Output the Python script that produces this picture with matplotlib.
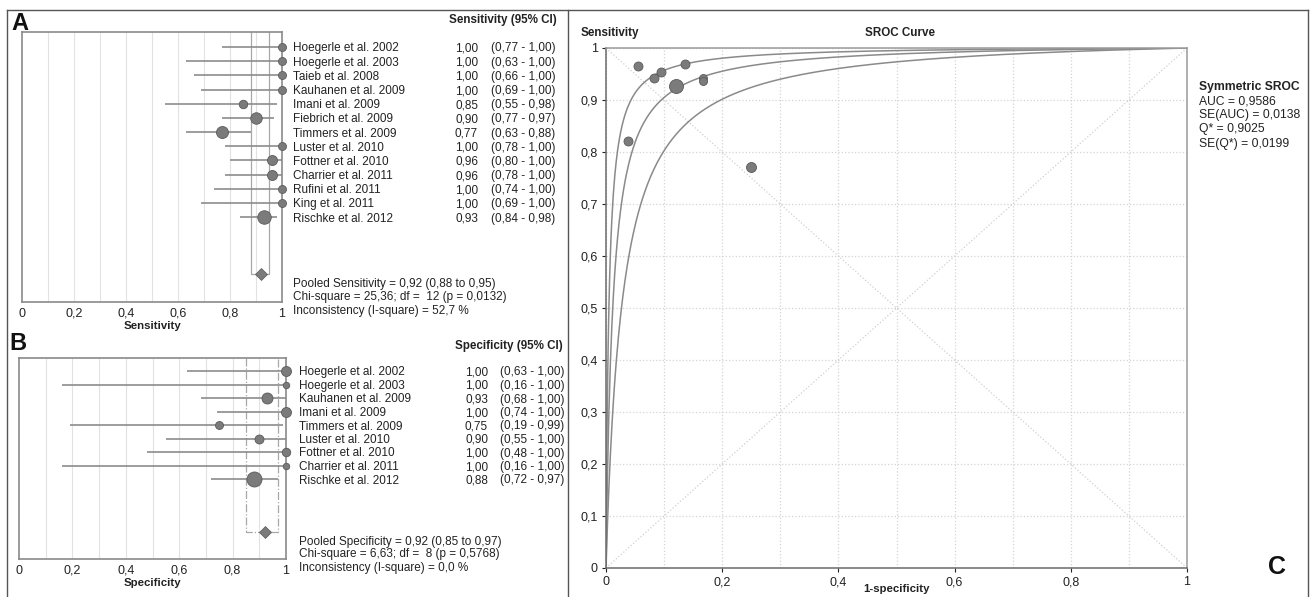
import numpy as np
import matplotlib
matplotlib.use('Agg')
import matplotlib.pyplot as plt
from matplotlib.lines import Line2D
from matplotlib.ticker import FuncFormatter, MultipleLocator

plt.rcParams['font.family'] = ['Liberation Sans', 'DejaVu Sans']

# ---- data: sensitivity forest plot (A)
sens_studies = ['Hoegerle et al. 2002', 'Hoegerle et al. 2003', 'Taieb et al. 2008',
                'Kauhanen et al. 2009', 'Imani et al. 2009', 'Fiebrich et al. 2009',
                'Timmers et al. 2009', 'Luster et al. 2010', 'Fottner et al. 2010',
                'Charrier et al. 2011', 'Rufini et al. 2011', 'King et al. 2011',
                'Rischke et al. 2012']
sens_est = [1.00, 1.00, 1.00, 1.00, 0.85, 0.90, 0.77, 1.00, 0.96, 0.96, 1.00, 1.00, 0.93]
sens_lo = [0.77, 0.63, 0.66, 0.69, 0.55, 0.77, 0.63, 0.78, 0.80, 0.78, 0.74, 0.69, 0.84]
sens_hi = [1.00, 1.00, 1.00, 1.00, 0.98, 0.97, 0.88, 1.00, 1.00, 1.00, 1.00, 1.00, 0.98]
sens_weight = [8, 8, 8, 8, 8.5, 11.5, 12, 8, 10, 10, 8, 8, 13.5]
sens_pooled = (0.92, 0.88, 0.95)
sens_stats = ['Pooled Sensitivity = 0,92 (0,88 to 0,95)',
              'Chi-square = 25,36; df =  12 (p = 0,0132)',
              'Inconsistency (I-square) = 52,7 %']

# ---- data: specificity forest plot (B)
spec_studies = ['Hoegerle et al. 2002', 'Hoegerle et al. 2003', 'Kauhanen et al. 2009',
                'Imani et al. 2009', 'Timmers et al. 2009', 'Luster et al. 2010',
                'Fottner et al. 2010', 'Charrier et al. 2011', 'Rischke et al. 2012']
spec_est = [1.00, 1.00, 0.93, 1.00, 0.75, 0.90, 1.00, 1.00, 0.88]
spec_lo = [0.63, 0.16, 0.68, 0.74, 0.19, 0.55, 0.48, 0.16, 0.72]
spec_hi = [1.00, 1.00, 1.00, 1.00, 0.99, 1.00, 1.00, 1.00, 0.97]
spec_weight = [10, 6.5, 11, 10, 8, 9, 8.5, 6.5, 15]
spec_pooled = (0.92, 0.85, 0.97)
spec_stats = ['Pooled Specificity = 0,92 (0,85 to 0,97)',
              'Chi-square = 6,63; df =  8 (p = 0,5768)',
              'Inconsistency (I-square) = 0,0 %']

# ---- data: SROC (C)
roc_fpr = [0.038, 0.055, 0.083, 0.095, 0.121, 0.136, 0.167, 0.167, 0.250]
roc_sens = [0.822, 0.966, 0.943, 0.954, 0.926, 0.969, 0.943, 0.937, 0.771]
roc_size = [9, 9, 9, 9, 14, 9, 8, 8, 10]
sroc_a = [5.3, 4.45, 3.6]   # SROC intercepts (upper, symmetric, lower)
sroc_stats = ['AUC = 0,9586', 'SE(AUC) = 0,0138', 'Q* = 0,9025', 'SE(Q*) = 0,0199']

W, H = 1314, 597
fig = plt.figure(figsize=(W / 100, H / 100), dpi=100)

def px_axes(left, top, right, bottom):
    return fig.add_axes([left / W, 1 - bottom / H, (right - left) / W, (bottom - top) / H])

def comma(v, pos=None):
    if abs(v) < 1e-9:
        return '0'
    if abs(v - 1) < 1e-9:
        return '1'
    return f'{v:.1f}'.replace('.', ',')

def two(v):
    return f'{v:.2f}'.replace('.', ',')

gray_mk = '#7b7b7b'
gray_edge = '#5a5a5a'
gray_line = '#8c8c8c'
spine_c = '#8a8a8a'
txt = '#222222'
fs = 8.5

def forest(ax, names, est, lo, hi, wts, pooled, stats, header, xlabel, ymin, ymax,
           diamond_y, pool_ls, name_x, val_x, ci_x, head_x, text_rows):
    n = len(names)
    ys = np.arange(n)
    ax.set_xlim(0, 1)
    ax.set_ylim(ymax, ymin)
    for g in np.arange(0.1, 1.0, 0.1):
        ax.axvline(g, color='#e2e2e2', lw=0.8, zorder=0)
    ax.hlines(ys, lo, hi, color=gray_line, lw=1.2, zorder=2)
    for y, e, w in zip(ys, est, wts):
        ax.plot(e, y, 'o', ms=w / 1.39, color=gray_mk, mec=gray_edge, mew=0.6, zorder=3,
                clip_on=False)
    p, plo, phi = pooled
    ax.plot([plo, plo, phi, phi], [ymin, diamond_y, diamond_y, ymin], color='#a8a8a8',
            lw=0.9, ls=pool_ls, zorder=1, clip_on=False)
    ax.plot(p, diamond_y, 'D', ms=6.5, color=gray_mk, mec=gray_edge, mew=0.5, zorder=3)
    ax.set_xticks(np.arange(0, 1.01, 0.2))
    ax.xaxis.set_major_formatter(FuncFormatter(comma))
    ax.tick_params(axis='x', length=0, labelsize=9, colors=txt, pad=4)
    ax.set_yticks([])
    for s in ax.spines.values():
        s.set_color(spine_c)
        s.set_linewidth(1.2)
    ax.set_xlabel(xlabel, fontsize=8.2, fontweight='bold', color=txt, labelpad=1)
    ax.text(head_x, ymin - 0.45, header, fontsize=8.4, fontweight='bold', color=txt,
            ha='right', va='bottom', clip_on=False)
    for y, nm, e, l, h in zip(ys, names, est, lo, hi):
        ax.text(name_x, y, nm, fontsize=fs, color=txt, va='center_baseline', clip_on=False)
        ax.text(val_x, y, two(e), fontsize=fs, color=txt, va='center_baseline', ha='right',
                clip_on=False)
        ax.text(ci_x, y, f'({two(l)} - {two(h)})', fontsize=fs, color=txt,
                va='center_baseline', clip_on=False)
    for y, s in zip(text_rows, stats):
        ax.text(name_x, y, s, fontsize=fs, color=txt, va='center_baseline', clip_on=False)

# ---- panel A
axA = px_axes(22, 32, 282, 302)
forest(axA, sens_studies, sens_est, sens_lo, sens_hi, sens_weight,
       sens_pooled, sens_stats, 'Sensitivity (95% CI)', 'Sensitivity',
       ymin=(32 - 47) / 14.17, ymax=(302 - 47) / 14.17, diamond_y=(274 - 47) / 14.17,
       pool_ls='-', name_x=(293 - 22) / 260, val_x=(478 - 22) / 260,
       ci_x=(491 - 22) / 260, head_x=(557 - 22) / 260,
       text_rows=[(283 - 47) / 14.17, (296 - 47) / 14.17, (310 - 47) / 14.17])

# ---- panel B
axB = px_axes(19, 358, 286, 559)
forest(axB, spec_studies, spec_est, spec_lo, spec_hi, spec_weight,
       spec_pooled, spec_stats, 'Specificity (95% CI)', 'Specificity',
       ymin=(358 - 371) / 13.5, ymax=(559 - 371) / 13.5, diamond_y=(532 - 371) / 13.5,
       pool_ls='-.', name_x=(299 - 19) / 267, val_x=(488 - 19) / 267,
       ci_x=(500 - 19) / 267, head_x=(563 - 19) / 267,
       text_rows=[(540 - 371) / 13.5, (553 - 371) / 13.5, (567 - 371) / 13.5])

# ---- panel C
axC = px_axes(606, 48, 1187, 568)
axC.set_xlim(0, 1)
axC.set_ylim(0, 1)
axC.xaxis.set_minor_locator(MultipleLocator(0.1))
axC.yaxis.set_major_locator(MultipleLocator(0.1))
axC.set_xticks(np.arange(0, 1.01, 0.2))
axC.grid(True, which='both', color='#d4d4d4', ls=':', lw=0.9)
axC.set_axisbelow(True)
axC.plot([0, 1], [0, 1], color='#d0d0d0', ls=':', lw=0.9, zorder=1)
axC.plot([0, 1], [1, 0], color='#d0d0d0', ls=':', lw=0.9, zorder=1)
fpr_grid = np.linspace(1e-5, 1 - 1e-9, 800)
for a in sroc_a:
    lg = np.log(fpr_grid / (1 - fpr_grid))
    axC.plot(fpr_grid, 1 / (1 + np.exp(-(a + lg))), color='#8a8a8a', lw=1.1, zorder=2)
for x, y, s in zip(roc_fpr, roc_sens, roc_size):
    axC.plot(x, y, 'o', ms=s / 1.39, color=gray_mk, mec=gray_edge, mew=0.6, zorder=3)
axC.xaxis.set_major_formatter(FuncFormatter(comma))
axC.yaxis.set_major_formatter(FuncFormatter(comma))
axC.tick_params(axis='both', which='major', length=3, labelsize=9, colors=txt,
                pad=3, width=0.8)
axC.tick_params(axis='both', which='minor', length=0)
for side, s in axC.spines.items():
    s.set_color('#6a6a6a' if side in ('left', 'bottom') else '#9a9a9a')
    s.set_linewidth(1.1)

fig.text(896 / W, 1 - 589 / H, '1-specificity', fontsize=8.2, fontweight='bold',
         color=txt, va='center', ha='center')
fig.text(581 / W, 1 - 33 / H, 'Sensitivity', fontsize=8.4, fontweight='bold', color=txt,
         va='center')
fig.text(900 / W, 1 - 33 / H, 'SROC Curve', fontsize=8.4, fontweight='bold', color=txt,
         va='center', ha='center')
fig.text(1199 / W, 1 - 87 / H, 'Symmetric SROC', fontsize=8.7, fontweight='bold',
         color=txt, va='center')
for i, s in enumerate(sroc_stats):
    fig.text(1199 / W, 1 - (101 + 14.2 * i) / H, s, fontsize=8.7, color=txt, va='center')

# panel letters
fig.text(11 / W, 1 - 23 / H, 'A', fontsize=17, fontweight='bold', color='#111111',
         va='center')
fig.text(9 / W, 1 - 344 / H, 'B', fontsize=17, fontweight='bold', color='#111111',
         va='center')
fig.text(1268 / W, 1 - 567 / H, 'C', fontsize=18, fontweight='bold', color='#111111',
         va='center')

# frame lines
for xs, ys in [([7, 1308], [10, 10]), ([7, 7], [10, 597]), ([1308, 1308], [10, 597]),
               ([568, 568], [10, 597])]:
    fig.add_artist(Line2D([x / W for x in xs], [1 - y / H for y in ys],
                          color='#555555', lw=1.0))

fig.savefig('out.png', dpi=100)
